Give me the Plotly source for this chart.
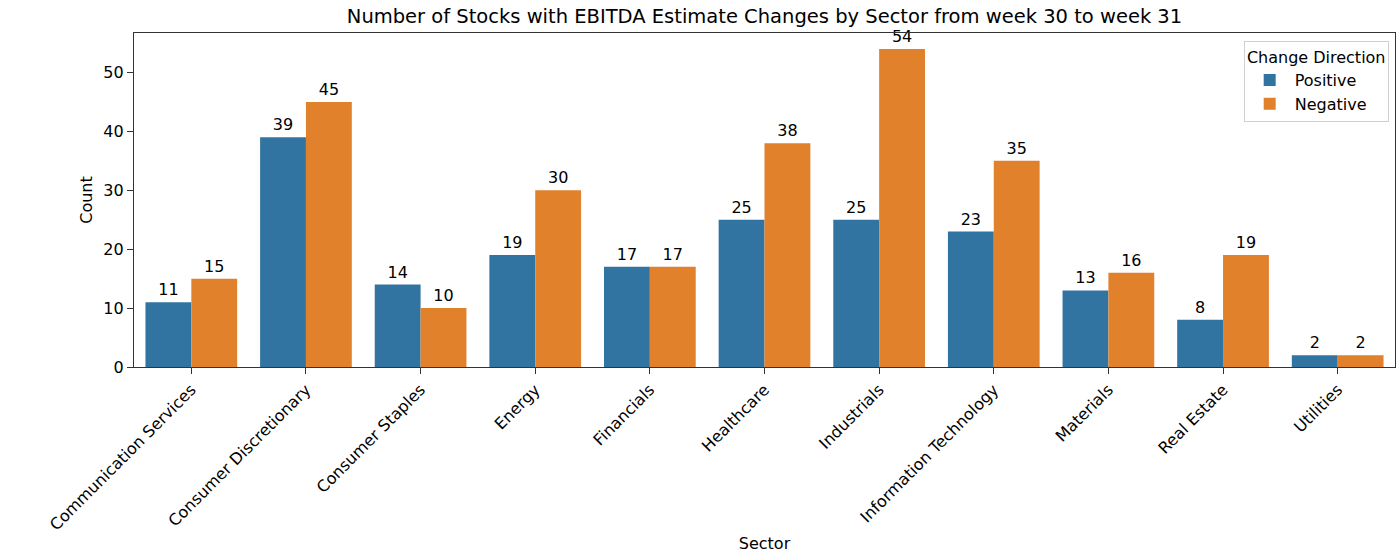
import plotly.graph_objects as go

sectors = ["Communication Services", "Consumer Discretionary", "Consumer Staples", "Energy",
           "Financials", "Healthcare", "Industrials", "Information Technology", "Materials",
           "Real Estate", "Utilities"]
positive = [11, 39, 14, 19, 17, 25, 25, 23, 13, 8, 2]
negative = [15, 45, 10, 30, 17, 38, 54, 35, 16, 19, 2]

FONT = "DejaVu Sans"
FS = 16
fig = go.Figure()
fig.add_trace(go.Bar(x=sectors, y=positive, name="Positive", marker_color="#3274a1",
                     marker_line_width=0, text=positive, textposition="outside",
                     textfont=dict(size=FS, color="#000"), cliponaxis=False))
fig.add_trace(go.Bar(x=sectors, y=negative, name="Negative", marker_color="#e1812c",
                     marker_line_width=0, text=negative, textposition="outside",
                     textfont=dict(size=FS, color="#000"), cliponaxis=False))

fig.update_layout(
    width=1400, height=556,
    margin=dict(l=134, r=5, t=33, b=189),
    paper_bgcolor="white", plot_bgcolor="white",
    barmode="group", bargap=0.2, bargroupgap=0,
    font=dict(family=FONT, size=FS, color="#000"),
    title=dict(text="Number of Stocks with EBITDA Estimate Changes by Sector from week 30 to week 31",
               x=0.5, xref="paper", xanchor="center", yref="container", y=1 - 16 / 556,
               yanchor="middle", font=dict(size=19.5, color="#000")),
    legend=dict(title=dict(text="Change Direction", side="top center", font=dict(size=FS)),
                x=0.995, y=0.975, xanchor="right", yanchor="top",
                bordercolor="#d0d0d0", borderwidth=1, bgcolor="rgba(255,255,255,0.8)",
                font=dict(size=FS), itemwidth=40),
    uniformtext=dict(minsize=FS, mode="show"),
)
fig.update_xaxes(title=dict(text="Sector", font=dict(size=FS), standoff=4),
                 tickangle=-45, showline=True, linecolor="#333", linewidth=1.2, mirror=True,
                 ticks="outside", ticklen=6, tickcolor="#333", showgrid=False,
                 range=[-0.5, 10.5], automargin=False, tickfont=dict(size=FS))
fig.update_yaxes(title=dict(text="Count", font=dict(size=FS), standoff=6),
                 range=[0, 56.7], dtick=10, showline=True, linecolor="#333", linewidth=1.2,
                 mirror=True, ticks="outside", ticklen=6, tickcolor="#333", showgrid=False,
                 zeroline=False, automargin=False, tickfont=dict(size=FS))

fig.write_html("out.html", post_script="document.body.style.margin='0';",
               config={"displayModeBar": False})
